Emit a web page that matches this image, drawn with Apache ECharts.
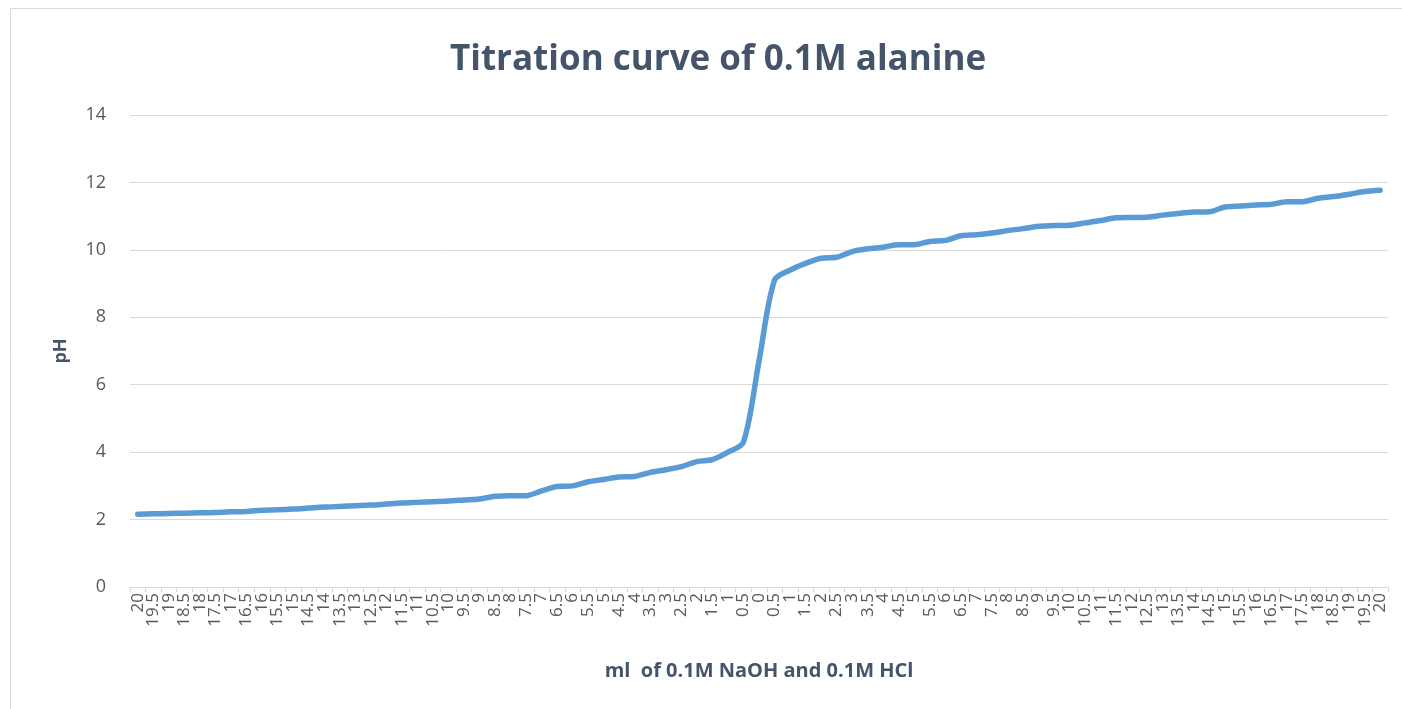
<!DOCTYPE html>
<html>
<head>
<meta charset="utf-8">
<script src="https://cdn.jsdelivr.net/npm/echarts@6/dist/echarts.min.js"></script>
<style>
  html, body { margin: 0; padding: 0; background: #ffffff; }
  #chart { width: 1402px; height: 709px; }
</style>
</head>
<body>
<div id="chart"></div>
<script>
// Volume added (ml): HCl side counts down to 0, NaOH side counts back up
const volumeLabels = [
  '20', '19.5', '19', '18.5', '18', '17.5', '17', '16.5', '16', '15.5',
  '15', '14.5', '14', '13.5', '13', '12.5', '12', '11.5', '11', '10.5',
  '10', '9.5', '9', '8.5', '8', '7.5', '7', '6.5', '6', '5.5',
  '5', '4.5', '4', '3.5', '3', '2.5', '2', '1.5', '1', '0.5',
  '0',
  '0.5', '1', '1.5', '2', '2.5', '3', '3.5', '4', '4.5', '5',
  '5.5', '6', '6.5', '7', '7.5', '8', '8.5', '9', '9.5', '10',
  '10.5', '11', '11.5', '12', '12.5', '13', '13.5', '14', '14.5', '15',
  '15.5', '16', '16.5', '17', '17.5', '18', '18.5', '19', '19.5', '20'
];

// Measured pH for each volume step
const phValues = [
  2.16, 2.17, 2.18, 2.19, 2.20, 2.21, 2.23, 2.24, 2.28, 2.29,
  2.31, 2.34, 2.37, 2.39, 2.41, 2.43, 2.46, 2.49, 2.51, 2.53,
  2.55, 2.58, 2.61, 2.69, 2.71, 2.71, 2.85, 2.98, 3.00, 3.12,
  3.19, 3.26, 3.28, 3.40, 3.48, 3.57, 3.72, 3.78, 4.00, 4.30,
  6.70,
  9.10, 9.40, 9.60, 9.75, 9.78, 9.95, 10.03, 10.08, 10.15, 10.15,
  10.25, 10.28, 10.42, 10.45, 10.50, 10.57, 10.63, 10.70, 10.72, 10.73,
  10.80, 10.87, 10.95, 10.96, 10.97, 11.03, 11.08, 11.12, 11.13, 11.27,
  11.30, 11.33, 11.35, 11.43, 11.43, 11.53, 11.58, 11.65, 11.73, 11.77
];

const yTicks = { min: 0, max: 14, interval: 2 };

const chart = echarts.init(document.getElementById('chart'), null, { renderer: 'canvas' });

chart.setOption({
  backgroundColor: '#ffffff',
  animation: false,
  title: {
    text: 'Titration curve of 0.1M alanine',
    left: 713,
    textAlign: 'center',
    top: 38,
    textStyle: {
      fontFamily: 'Open Sans',
      fontWeight: 'bold',
      fontSize: 35,
      color: '#44546A'
    }
  },
  graphic: [{
    type: 'rect',
    shape: { x: 10.5, y: 8.5, width: 1420, height: 720 },
    style: { fill: 'none', stroke: '#D9D9D9', lineWidth: 1 },
    silent: true,
    z: -1
  }],
  grid: {
    left: 130,
    right: 14,
    top: 115,
    bottom: 122
  },
  xAxis: {
    type: 'category',
    data: volumeLabels,
    boundaryGap: true,
    name: 'ml  of 0.1M NaOH and 0.1M HCl',
    nameLocation: 'middle',
    nameGap: 74,
    nameTextStyle: {
      fontFamily: 'Open Sans',
      fontWeight: 'bold',
      fontSize: 20,
      color: '#44546A'
    },
    axisLine: { show: true, lineStyle: { color: '#D9D9D9', width: 1 } },
    axisTick: { show: true, length: 5, interval: 0, lineStyle: { color: '#D9D9D9' } },
    axisLabel: {
      interval: 0,
      rotate: 90,
      margin: 6,
      fontFamily: 'Open Sans',
      fontSize: 17,
      color: '#595959'
    },
    splitLine: { show: false }
  },
  yAxis: {
    type: 'value',
    min: yTicks.min,
    max: yTicks.max,
    interval: yTicks.interval,
    name: 'pH',
    nameLocation: 'middle',
    nameGap: 60,
    nameRotate: 90,
    nameTextStyle: {
      fontFamily: 'Open Sans',
      fontWeight: 'bold',
      fontSize: 18,
      color: '#44546A'
    },
    axisLine: { show: false },
    axisTick: { show: false },
    axisLabel: {
      margin: 24,
      fontFamily: 'Open Sans',
      fontSize: 18,
      color: '#595959'
    },
    splitLine: { show: true, lineStyle: { color: '#D9D9D9', width: 1 } }
  },
  series: [{
    type: 'line',
    data: phValues,
    smooth: 0.3,
    showSymbol: false,
    lineStyle: { color: '#5B9BD5', width: 5.5, cap: 'round', join: 'round' },
    itemStyle: { color: '#5B9BD5' }
  }]
});
</script>
</body>
</html>
